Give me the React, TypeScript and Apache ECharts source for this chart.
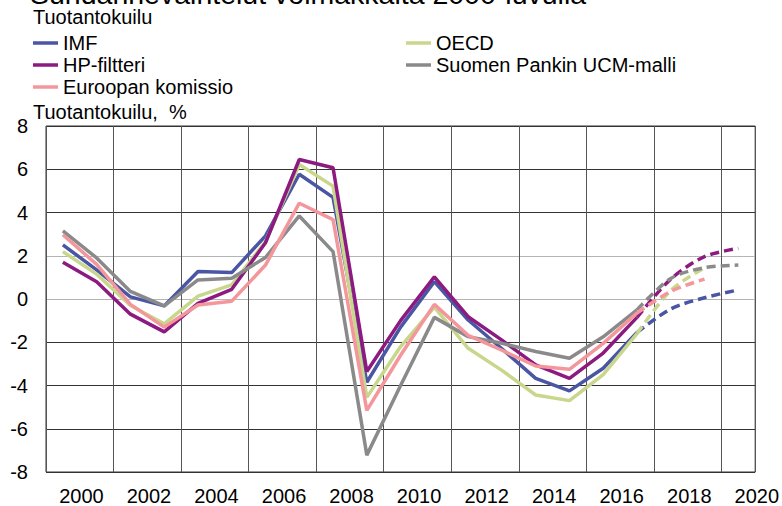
import React, { useEffect, useRef } from "react";
import * as echarts from "echarts";

const FONT = "'Liberation Sans', Arial, Helvetica, sans-serif";

// Categories (years)
const years = [
  "2000", "2001", "2002", "2003", "2004", "2005", "2006", "2007", "2008", "2009",
  "2010", "2011", "2012", "2013", "2014", "2015", "2016", "2017", "2018", "2019", "2020",
];

// Observed output gap, 2000–2017 (%)
const imf = [2.5, 1.35, 0.1, -0.32, 1.27, 1.22, 2.92, 5.77, 4.7, -3.85, -1.3, 0.8, -0.97, -2.3, -3.67, -4.25, -3.2, -1.55];
const oecd = [2.19, 1.15, -0.3, -1.15, 0.13, 0.65, 2.65, 6.22, 5.22, -4.55, -2.2, -0.38, -2.28, -3.3, -4.44, -4.7, -3.5, -1.6];
const hp = [1.7, 0.8, -0.7, -1.52, -0.2, 0.45, 2.6, 6.45, 6.07, -3.35, -1.0, 1.02, -0.82, -1.9, -3.05, -3.67, -2.5, -0.85];
const ucm = [3.15, 1.9, 0.35, -0.32, 0.88, 0.96, 1.92, 3.84, 2.19, -7.22, -4.0, -0.85, -1.74, -2.05, -2.43, -2.74, -1.75, -0.5];
const eu = [2.97, 1.6, -0.25, -1.3, -0.28, -0.1, 1.57, 4.43, 3.67, -5.15, -2.6, -0.25, -1.68, -2.37, -3.1, -3.25, -2.05, -0.65];

// Forecasts, starting at 2017
const forecastStart = "2017";
const imfF = [-1.55, -0.46, 0.06, 0.42];
const oecdF = [-1.6, 0.4, 1.45];
const hpF = [-0.85, 0.92, 1.96, 2.34];
const ucmF = [-0.5, 0.95, 1.45, 1.57];
const euF = [-0.65, 0.35, 0.92];

const yTicks = [-8, -6, -4, -2, 0, 2, 4, 6, 8];

const names = ["IMF", "OECD", "HP-filtteri", "Suomen Pankin UCM-malli", "Euroopan komissio"];
const colors = ["#4A56A4", "#C8D78C", "#8C1A80", "#8A8A8A", "#F4979C"];

export default function App() {
  const ref = useRef<HTMLDivElement>(null);

  useEffect(() => {
    if (!ref.current) return;
    const chart = echarts.init(ref.current, null, { renderer: "svg" });

    const startIdx = years.indexOf(forecastStart);
    const padActual = (arr: number[]) => years.map((_, i) => (i < arr.length ? arr[i] : null));
    const padForecast = (arr: number[]) =>
      years.map((_, i) => (i >= startIdx && i - startIdx < arr.length ? arr[i - startIdx] : null));

    const actual = [imf, oecd, hp, ucm, eu];
    const forecast = [imfF, oecdF, hpF, ucmF, euF];

    const series: any[] = [];
    names.forEach((n, k) => {
      series.push({
        name: n,
        type: "line",
        data: padActual(actual[k]),
        symbol: "none",
        lineStyle: { color: colors[k], width: 3.5 },
        itemStyle: { color: colors[k] },
        z: 3 + k,
      });
    });
    names.forEach((n, k) => {
      series.push({
        name: n,
        type: "line",
        data: padForecast(forecast[k]),
        symbol: "none",
        smooth: 0.3,
        lineStyle: { color: colors[k], width: 3.5, type: [9, 5] },
        itemStyle: { color: colors[k] },
        z: 3 + k,
      });
    });

    const legendCommon = {
      orient: "vertical",
      icon: "rect",
      itemWidth: 25,
      itemHeight: 3.5,
      itemGap: 0,
      selectedMode: false,
      textStyle: { fontSize: 20, color: "#000", fontFamily: FONT, lineHeight: 22 },
      padding: 0,
    };

    const splitColors = yTicks.map((v) => (v === 0 || v === 2 ? "#b4b4b4" : "#333333"));

    chart.setOption({
      animation: false,
      backgroundColor: "#ffffff",
      textStyle: { fontFamily: FONT },
      grid: {
        left: 46,
        right: 25,
        top: 126,
        bottom: 34,
        show: true,
        borderColor: "#333",
        borderWidth: 1,
        backgroundColor: "transparent",
      },
      legend: [
        { ...legendCommon, left: 33, top: 32, data: [names[0], names[2], names[4]] },
        { ...legendCommon, left: 406, top: 32, data: [names[1], names[3]] },
      ],
      xAxis: {
        type: "category",
        data: years,
        boundaryGap: true,
        axisLine: { show: false },
        axisTick: { show: false },
        axisLabel: {
          interval: 1,
          fontSize: 20,
          color: "#000",
          fontFamily: FONT,
          margin: 14,
          padding: [0, 0, 0, 37],
        },
        splitLine: { show: true, interval: 1, lineStyle: { color: "#555", width: 1 } },
      },
      yAxis: {
        type: "value",
        min: -8,
        max: 8,
        interval: 2,
        axisLine: { show: false },
        axisTick: { show: false },
        axisLabel: { fontSize: 20, color: "#000", fontFamily: FONT, margin: 18 },
        splitLine: { show: true, lineStyle: { color: splitColors, width: 1 } },
      },
      graphic: [
        {
          type: "text",
          x: 30,
          y: -6.5,
          style: {
            text: "Suhdannevaihtelut voimakkaita 2000-luvulla",
            fontSize: 28.5,
            fontFamily: FONT,
            fill: "#000",
            verticalAlign: "middle",
          },
        },
        {
          type: "text",
          x: 33,
          y: 17,
          style: {
            text: "Tuotantokuilu",
            fontSize: 20,
            fontFamily: FONT,
            fill: "#000",
            verticalAlign: "middle",
          },
        },
        {
          type: "text",
          x: 33,
          y: 112,
          style: {
            text: "Tuotantokuilu,  %",
            fontSize: 20,
            fontFamily: FONT,
            fill: "#000",
            verticalAlign: "middle",
          },
        },
      ],
      series,
    });

    return () => chart.dispose();
  }, []);

  return (
    <div
      ref={ref}
      style={{ position: "fixed", left: 0, top: 0, width: 782, height: 506, background: "#fff" }}
    />
  );
}
